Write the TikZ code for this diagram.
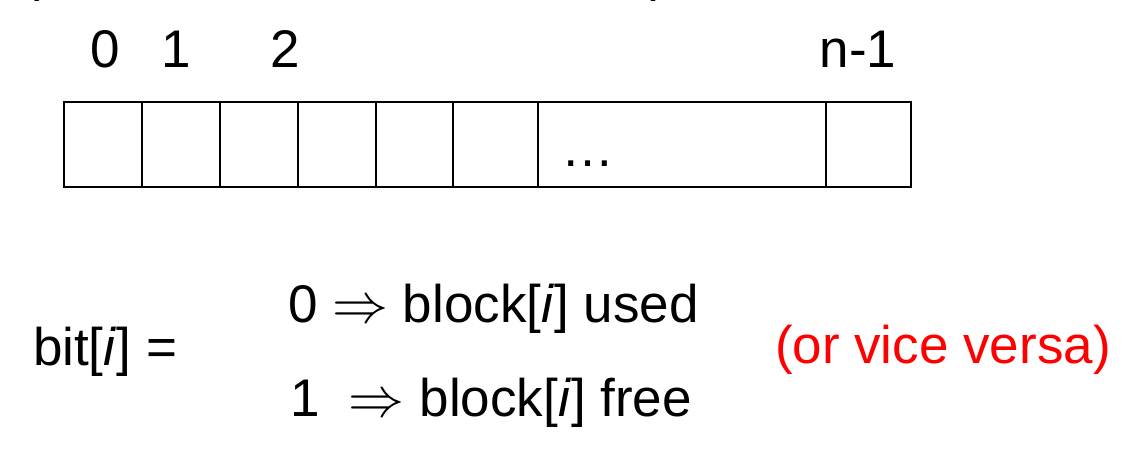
\documentclass[tikz,border=0pt]{standalone}
\usepackage{fontspec}
\usepackage{graphicx}
\setmainfont{Liberation Sans}
\newcommand{\implarrow}{\resizebox{56pt}{!}{$\Rightarrow$}}
\begin{document}
\begin{tikzpicture}[x=1pt,y=-1pt,
  txt/.style={inner sep=0pt,outer sep=0pt,font=\fontsize{53}{63}\selectfont},
  cell/.style={draw,line width=1.6pt,minimum height=85pt,inner sep=0pt,outer sep=0pt}]
\useasboundingbox (0,0) rectangle (1126,462);
\clip (0,0) rectangle (1126,462);
% cut-off parentheses at the top
\node[txt,anchor=base west] (lp) at (22,-9) {(};
\node[txt,anchor=base east] (rp) at (668,-9) {)};
% index labels
\node[txt,anchor=base] (l0) at (105,68) {0};
\node[txt,anchor=base] (l1) at (176,68) {1};
\node[txt,anchor=base] (l2) at (285,68) {2};
\node[txt,anchor=base] (ln) at (858,68) {n-1};
% cells
\foreach \a/\b [count=\k] in {64/142,142/220,220/298,298/376,376/453,453/538,538/826,826/911}{
  \node[cell,minimum width={(\b-\a)*1pt},anchor=north west] (c\k) at (\a,102) {};
}
\node[txt,anchor=base] (dots) at (588,167) {…};
% formula
\node[txt,anchor=base west] (bit) at (33,365) {bit[\textit{i}] =};
\node[txt,anchor=base west] (used) at (288,322) {0 \implarrow\ block[\textit{i}] used};
\node[txt,anchor=base west] (free) at (290,416) {1\ \ \implarrow\ block[\textit{i}] free};
\node[txt,anchor=base west,text=red] (vv) at (775,363) {(or vice versa)};
\end{tikzpicture}
\end{document}
